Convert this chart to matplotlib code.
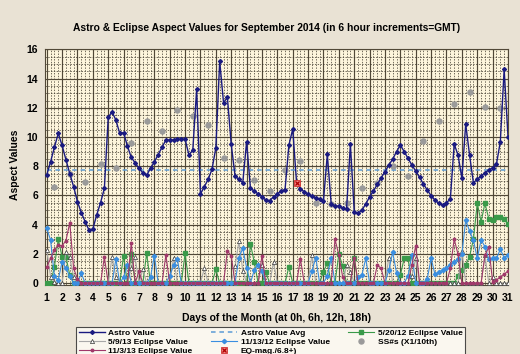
"""Astro & Eclipse aspect values, September 2014, 6-hour steps."""

import matplotlib
matplotlib.use("Agg")
import matplotlib.pyplot as plt
from matplotlib.ticker import MultipleLocator
import numpy as np

plt.rcParams["font.family"] = ["Liberation Sans", "DejaVu Sans"]
plt.rcParams["font.weight"] = "bold"

N_POINTS = 121  # 30 days x 4 steps + Oct 1 0h
day_labels = [str(d) for d in range(1, 32)]

astro_value = [
    7.4, 8.3, 9.3, 10.25, 9.43, 8.45, 7.5, 6.6, 5.57, 4.82, 4.2, 3.63, 3.7, 4.66, 5.5, 6.48,
    11.35, 11.73, 11.16, 10.25, 10.3, 9.38, 8.6, 8.24, 7.85, 7.56, 7.4, 7.85, 8.3, 8.8, 9.3, 9.8,
    9.8, 9.8, 9.85, 9.85, 9.85, 8.77, 9.1, 13.26, 6.1, 6.6, 7.1, 7.79, 9.27, 15.2, 12.35, 12.72,
    9.5, 7.33, 7.1, 6.87, 9.68, 6.48, 6.3, 6.1, 5.91, 5.68, 5.64, 5.91, 6.1, 6.32, 6.4, 9.45,
    10.55, 6.87, 6.44, 6.26, 6.1, 5.96, 5.84, 5.75, 5.64, 8.81, 5.41, 5.3, 5.25, 5.11, 5.07, 9.5,
    4.88, 4.77, 5.0, 5.41, 5.91, 6.3, 6.76, 7.2, 7.63, 8.08, 8.49, 9.0, 9.45, 9.0, 8.54, 8.08,
    7.67, 7.24, 6.78, 6.37, 5.98, 5.68, 5.46, 5.34, 5.5, 5.75, 9.52, 8.77, 7.17, 10.89, 8.77, 6.87,
    7.1, 7.33, 7.56, 7.74, 7.9, 8.15, 9.68, 14.64, 10.02,
]
astro_avg = 7.75

# sunspot numbers, one per day at 12h
ss_index = list(range(2, 121, 4))
ss_value = [
    6.55, 7.46, 6.94, 8.15, 7.85, 9.6, 11.1, 10.43, 11.85, 11.44, 10.82, 8.56, 8.42, 7.05, 6.32,
    7.74, 8.36, 5.5, 5.39, 5.46, 6.48, 6.87, 8.01, 7.33, 9.75, 11.12, 12.24, 13.06, 12.08, 12.0,
]

# eclipse series: steps where the line leaves zero (zero everywhere else)
e052012_idx = [2, 3, 4, 5, 6, 20, 22, 26, 36, 44, 53, 54, 57, 63, 72, 73, 76, 77, 80, 92, 93, 94,
               107, 108, 109, 110, 111, 112, 113, 114, 115, 116, 117, 118, 119, 120]
e052012_val = [1.1, 3.0, 1.8, 1.8, 0.55, 1.87, 2.0, 2.03, 2.03, 0.93, 2.67, 1.42, 0.73, 1.12, 0.78,
               1.35, 2.0, 1.16, 1.74, 0.55, 1.69, 1.69,
               0.45, 0.9, 1.25, 1.8, 3.0, 5.46, 4.2, 5.46, 4.4, 4.35, 4.5, 4.5, 4.4, 4.05]

e050913_idx = [0, 1, 2, 5, 6, 7, 17, 18, 22, 23, 25, 33, 41, 49, 50, 51, 56, 59, 69, 78, 79, 89,
               95, 96, 108, 114, 116]
e050913_val = [2.26, 0.43, 0.07, 2.15, 1.76, 0.43, 1.76, 0.43, 1.0, 1.76, 0.93, 1.74, 1.0, 1.16,
               2.85, 0.85, 1.2, 1.42, 1.94, 1.2, 0.78, 1.74, 0.5, 1.72, 2.2, 1.9, 0.43]

e111312_idx = [0, 1, 2, 3, 4, 5, 6, 9, 18, 20, 21, 27, 28, 32, 33, 34, 50, 51, 52, 54, 55, 56, 69,
               70, 73, 74, 81, 82, 83, 89, 90, 91, 94, 95, 99, 100, 101, 102, 103, 104, 105, 106,
               107, 108, 109, 110, 111, 112, 113, 114, 115, 116, 117, 118, 119, 120]
e111312_val = [3.74, 2.95, 0.48, 0.2, 1.46, 1.0, 0.48, 0.66, 1.64, 0.4, 1.2, 0.4, 1.87, 0.5, 1.2,
               1.65, 1.74, 2.37, 1.05, 0.9, 1.23, 0.8, 0.82, 1.74, 0.5, 1.69, 0.43, 0.55, 1.69,
               0.9, 2.1, 0.7, 0.5, 1.92, 0.3, 1.69, 0.59, 0.73, 0.89, 1.05, 1.23, 1.46, 1.64, 1.96,
               4.32, 3.56, 2.95, 1.69, 2.95, 2.49, 1.64, 1.69, 1.69, 2.3, 1.74, 1.92]

e110313_idx = [0, 1, 2, 3, 4, 5, 6, 7, 8, 15, 22, 24, 31, 47, 48, 56, 66, 75, 76, 77, 80, 86, 87,
               95, 96, 105, 106, 107, 114, 115, 116, 117, 118, 119, 120]
e110313_val = [1.07, 1.69, 2.26, 2.6, 2.55, 2.9, 4.13, 1.0, 0.3, 1.76, 2.76, 0.8, 1.92, 2.2, 1.85,
               1.87, 1.65, 3.0, 1.9, 0.4, 1.74, 1.23, 1.0, 1.23, 2.56, 1.0, 3.01, 1.96, 1.9, 2.45,
               0.1, 0.2, 0.43, 0.6, 0.82]

eq_index = [65]
eq_value = [6.87]


def expand(idx, val):
    out = np.zeros(N_POINTS)
    out[idx] = val
    return out


x = np.arange(N_POINTS)

fig = plt.figure(figsize=(5.2, 3.54), dpi=100, facecolor="#e9e2d4")
ax = fig.add_axes([0.0865, 0.1956, 0.8908, 0.6646])
ax.set_facecolor("#fdf5dc")

ax.set_xlim(-0.45, 120.05)
ax.set_ylim(-0.12, 16)

# grid: solid at days / every 2, dotted at 6h / every 0.5
ax.xaxis.set_major_locator(MultipleLocator(4))
ax.xaxis.set_minor_locator(MultipleLocator(1))
ax.yaxis.set_major_locator(MultipleLocator(2))
ax.yaxis.set_minor_locator(MultipleLocator(0.5))
ax.grid(which="minor", color="#3a3428", linewidth=0.5, linestyle=(0, (2, 2)))
ax.grid(which="major", color="#514837", linewidth=0.85, linestyle="-")
ax.set_axisbelow(True)
for side in ax.spines.values():
    side.set_color("#514837")
    side.set_linewidth(0.8)

ax.set_xticks(range(0, 121, 4))
ax.set_xticklabels(day_labels)
ax.tick_params(which="both", length=0)
ax.tick_params(axis="x", pad=6, labelsize=7.5)
ax.tick_params(axis="y", pad=5, labelsize=7.5)

h_astro, = ax.plot(x, astro_value, color="#1a1a80", lw=1.0, marker="D", ms=2.0,
                   label="Astro Value", zorder=5)
h_avg, = ax.plot(x, [astro_avg] * N_POINTS, color="#5b9bd5", lw=1.1, ls=(0, (3, 2.5)),
                 label="Astro Value Avg", zorder=4)
h_g, = ax.plot(x, expand(e052012_idx, e052012_val), color="#3a9a4a", lw=0.8, marker="s",
               ms=2.6, label="5/20/12 Eclipse Value", zorder=3)
h_t, = ax.plot(x, expand(e050913_idx, e050913_val), color="#a8a8a8", lw=0.8, marker="^",
               ms=3.0, mfc="white", mec="#333333", mew=0.5, label="5/9/13 Eclipse Value",
               zorder=3.1)
h_b, = ax.plot(x, expand(e111312_idx, e111312_val), color="#3a8ee0", lw=0.8, marker="D",
               ms=2.2, label="11/13/12 Eclipse Value", zorder=3.2)
h_ss, = ax.plot(ss_index, ss_value, ls="none", marker="o", ms=3.6, color="#9a9a9a",
                label="SS#s (X1/10th)", zorder=4.5)
h_m, = ax.plot(x, expand(e110313_idx, e110313_val), color="#a0386a", lw=0.8, marker="o",
               ms=1.8, label="11/3/13 Eclipse Value", zorder=3.3)
h_eq_sq, = ax.plot(eq_index, eq_value, ls="none", marker="s", ms=5.0, mfc="#f08080",
                   mec="#d03030", mew=0.6, zorder=6)
h_eq_x, = ax.plot(eq_index, eq_value, ls="none", marker="x", ms=3.0, mec="#b00000",
                  mew=0.9, zorder=6.1)

fig.text(0.512, 0.922, "Astro & Eclipse Aspect Values for September 2014 "
         "(in 6 hour increments=GMT)", ha="center", va="center", fontsize=7.4,
         fontweight="bold")
fig.text(0.029, 0.534, "Aspect Values", rotation=90, ha="center", va="center",
         fontsize=7.5, fontweight="bold")
fig.text(0.532, 0.102, "Days of the Month (at 0h, 6h, 12h, 18h)", ha="center",
         va="center", fontsize=7.5, fontweight="bold")

handles = [h_astro, h_t, h_m, h_avg, h_b, (h_eq_sq, h_eq_x), h_g, h_ss]
labels = ["Astro Value", "5/9/13 Eclipse Value", "11/3/13 Eclipse Value", "Astro Value Avg",
          "11/13/12 Eclipse Value", "EQ-mag./6.8+)", "5/20/12 Eclipse Value", "SS#s (X1/10th)"]
leg = fig.legend(handles=handles, labels=labels, ncol=3, loc="upper left",
                 bbox_to_anchor=(76 / 520, 1 - 327 / 354 - 0.1, 389 / 520, 0.1),
                 mode="expand", fontsize=6, frameon=True, fancybox=False,
                 borderpad=0.3, labelspacing=0.12, handlelength=3.2, handletextpad=0.4,
                 columnspacing=1.0, borderaxespad=0)
leg.get_frame().set_facecolor("#fffdf6")
leg.get_frame().set_edgecolor("#222222")
leg.get_frame().set_linewidth(0.8)

fig.savefig("out.png", dpi=100, facecolor=fig.get_facecolor())
